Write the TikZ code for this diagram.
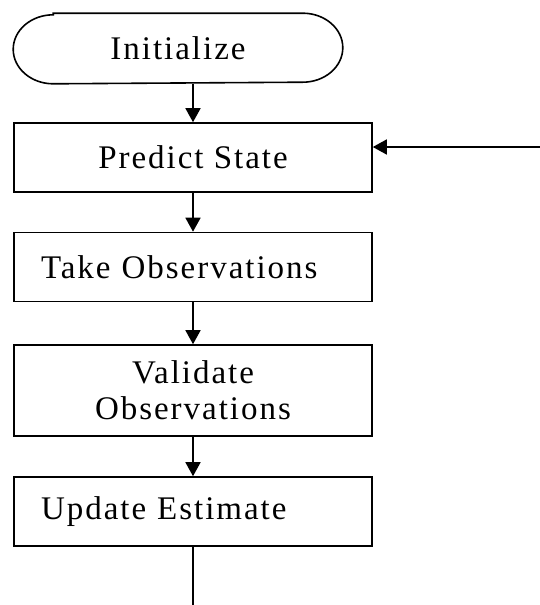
\documentclass[tikz,border=0pt]{standalone}
\usepackage{fontspec}
\setmainfont{Liberation Serif}[LetterSpace=6]
\usetikzlibrary{arrows.meta}
\begin{document}
\begin{tikzpicture}[x=1pt,y=1pt,
  line width=1.6pt,
  label text/.style={font=\fontsize{33}{36}\selectfont},
  box/.style={draw, rectangle, minimum width=358pt, minimum height=69pt,
              inner sep=0pt, label text},
  leftbox/.style={box, text width=304pt, align=left},
  terminal/.style={rectangle, minimum width=328pt, minimum height=69pt,
                   inner sep=0pt, label text},
  flow/.style={-{Triangle[length=14pt,width=15pt]}}
]
\useasboundingbox (0,0) rectangle (540,-605);

% steps of the loop
\node[terminal] (init) at (178,-48.5) {Initialize};
\node[box] (predict) at (193,-157.5) {Predict State};
\node[leftbox] (take) at (193,-267) {Take Observations};
\node[box, minimum height=91pt, align=center] (validate) at (193,-390.5)
     {Validate\\Observations};
\node[leftbox] (update) at (193,-511.5) {Update Estimate};

% start/stop outline with elliptic ends
\draw ([xshift=40pt]init.north west) -- ([xshift=-40pt]init.north east)
  arc[start angle=90, end angle=-90, x radius=40pt, y radius=34.5pt]
  -- ([xshift=40pt]init.south west)
  arc[start angle=270, end angle=90, x radius=40pt, y radius=34.5pt] -- cycle;

% loop ends
\coordinate (back) at (540,-147);
\coordinate (out) at (193,-605);

% connectors
\draw[flow] (predict.north |- init.south) -- (predict.north);
\draw[flow] (predict.south) -- (take.north);
\draw[flow] (take.south) -- (validate.north);
\draw[flow] (validate.south) -- (update.north);
\draw (update.south) -- (out);
\draw[flow] (back) -- (back -| predict.east);
\end{tikzpicture}
\end{document}
